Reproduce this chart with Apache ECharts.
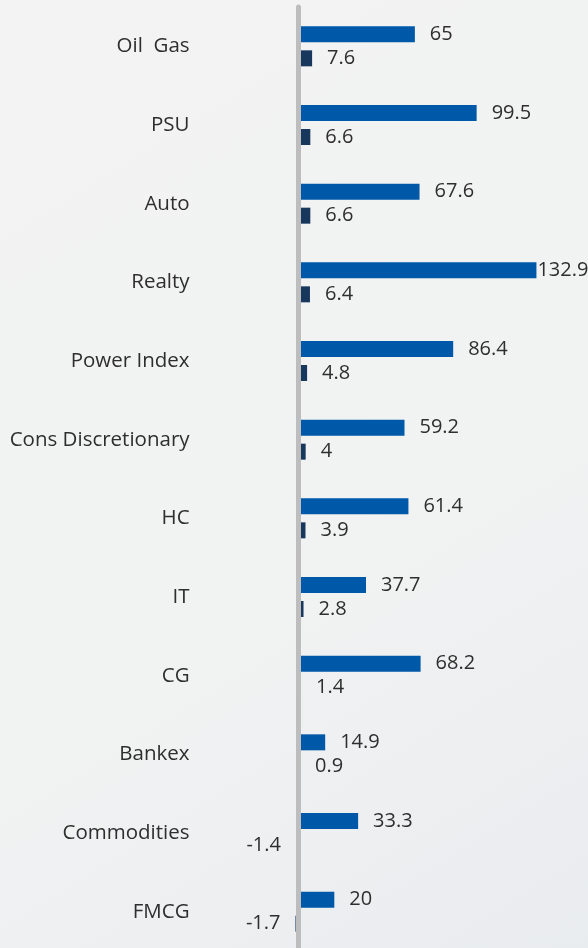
<!DOCTYPE html>
<html>
<head>
<meta charset="utf-8">
<script src="https://cdn.jsdelivr.net/npm/echarts@6/dist/echarts.min.js"></script>
<style>
html,body{margin:0;padding:0;}
#c{width:588px;height:948px;}
</style>
</head>
<body>
<div id="c"></div>
<script>
var categories = ["Oil  Gas","PSU","Auto","Realty","Power Index","Cons Discretionary","HC","IT","CG","Bankex","Commodities","FMCG"];
var seriesA = [65, 99.5, 67.6, 132.9, 86.4, 59.2, 61.4, 37.7, 68.2, 14.9, 33.3, 20];
var seriesB = [7.6, 6.6, 6.6, 6.4, 4.8, 4, 3.9, 2.8, 1.4, 0.9, -1.4, -1.7];

function toData(arr){
  var mx = Math.max.apply(null, arr);
  return arr.map(function(v){
    var lab = {position: v < 0 ? 'left' : 'right'};
    if (v === mx && v > 100) lab.distance = 1;
    return {value: v, label: lab};
  });
}

var chart = echarts.init(document.getElementById('c'));
var labelStyle = {show: true, distance: 15, color: '#2e2e2e', fontSize: 20, fontFamily: 'Open Sans', fontWeight: 400};
chart.setOption({
  backgroundColor: {
    type: 'linear', x: 0, y: 0, x2: 1, y2: 1,
    colorStops: [{offset: 0, color: '#f3f3f3'}, {offset: 0.6, color: '#f1f2f2'}, {offset: 1, color: '#e9ecef'}]
  },
  animation: false,
  grid: {left: 289.55, top: 7, width: 277.5, height: 944, containLabel: false, outerBoundsMode: 'none'},
  xAxis: {
    type: 'value', min: -5, max: 150,
    axisLine: {show: false}, axisTick: {show: false}, axisLabel: {show: false}, splitLine: {show: false}
  },
  yAxis: {
    type: 'category', data: categories, inverse: true, z: 5,
    axisLine: {show: true, onZero: true, lineStyle: {color: '#bdbdbd', width: 5}},
    axisTick: {show: false},
    axisLabel: {margin: 100, color: '#2e2e2e', fontSize: 20.5, fontFamily: 'Open Sans'}
  },
  series: [
    {type: 'bar', data: toData(seriesA), barWidth: 16, barGap: '50%', itemStyle: {color: '#0058a8'}, label: labelStyle},
    {type: 'bar', data: toData(seriesB), barWidth: 16, itemStyle: {color: '#17375d'}, label: labelStyle}
  ]
});
</script>
</body>
</html>
